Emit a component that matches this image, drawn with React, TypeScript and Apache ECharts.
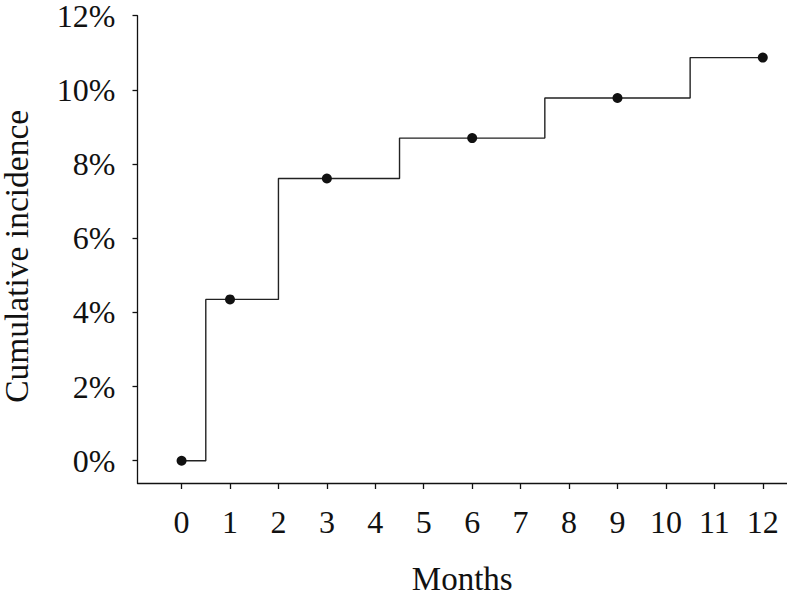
import React, { useEffect, useRef } from "react";
import * as echarts from "echarts";

const months = [0, 1, 3, 6, 9, 12];
const incidence = [0, 4.35, 7.61, 8.7, 9.78, 10.87];
const xTicks = [0, 1, 2, 3, 4, 5, 6, 7, 8, 9, 10, 11, 12];
const yTicks = [0, 2, 4, 6, 8, 10, 12];

const FONT = "Liberation Serif";

export default function App() {
  const ref = useRef<HTMLDivElement>(null);
  useEffect(() => {
    if (!ref.current) return;
    const chart = echarts.init(ref.current, null, { renderer: "svg" });
    const data = months.map((m, i) => [m, incidence[i]]);
    chart.setOption({
      animation: false,
      backgroundColor: "#ffffff",
      grid: {
        left: 137.5,
        right: 0,
        top: 15.7,
        bottom: 116,
        containLabel: false,
        outerBoundsMode: "none",
      },
      xAxis: {
        type: "value",
        min: -0.91,
        max: 12.5,
        name: "Months",
        nameLocation: "middle",
        nameGap: 79,
        nameTextStyle: { fontFamily: FONT, fontSize: 33, color: "#111" },
        splitLine: { show: false },
        axisLine: { show: true, onZero: false, lineStyle: { color: "#111", width: 1.3 } },
        axisTick: {
          show: true,
          length: 6,
          customValues: xTicks,
          lineStyle: { color: "#111", width: 1.3 },
        },
        axisLabel: {
          customValues: xTicks,
          margin: 23,
          fontFamily: FONT,
          fontSize: 32,
          color: "#111",
        },
      },
      yAxis: {
        type: "value",
        min: -0.6,
        max: 12,
        name: "Cumulative incidence",
        nameLocation: "middle",
        nameGap: 104,
        nameTextStyle: { fontFamily: FONT, fontSize: 33.5, color: "#111", padding: [0, 14, 0, 0] },
        splitLine: { show: false },
        axisLine: { show: true, onZero: false, lineStyle: { color: "#111", width: 1.3 } },
        axisTick: {
          show: true,
          length: 5,
          customValues: yTicks,
          lineStyle: { color: "#111", width: 1.3 },
        },
        axisLabel: {
          customValues: yTicks,
          margin: 22,
          fontFamily: FONT,
          fontSize: 32,
          color: "#111",
          formatter: (v: number) => `${v}%`,
        },
      },
      series: [
        {
          type: "line",
          step: "middle",
          data,
          symbol: "circle",
          symbolSize: 10,
          showAllSymbol: true,
          itemStyle: { color: "#111" },
          lineStyle: { color: "#222", width: 1.4 },
        },
      ],
    });
    return () => chart.dispose();
  }, []);
  return <div ref={ref} style={{ width: 787, height: 599, position: "absolute", left: 0, top: 0 }} />;
}
